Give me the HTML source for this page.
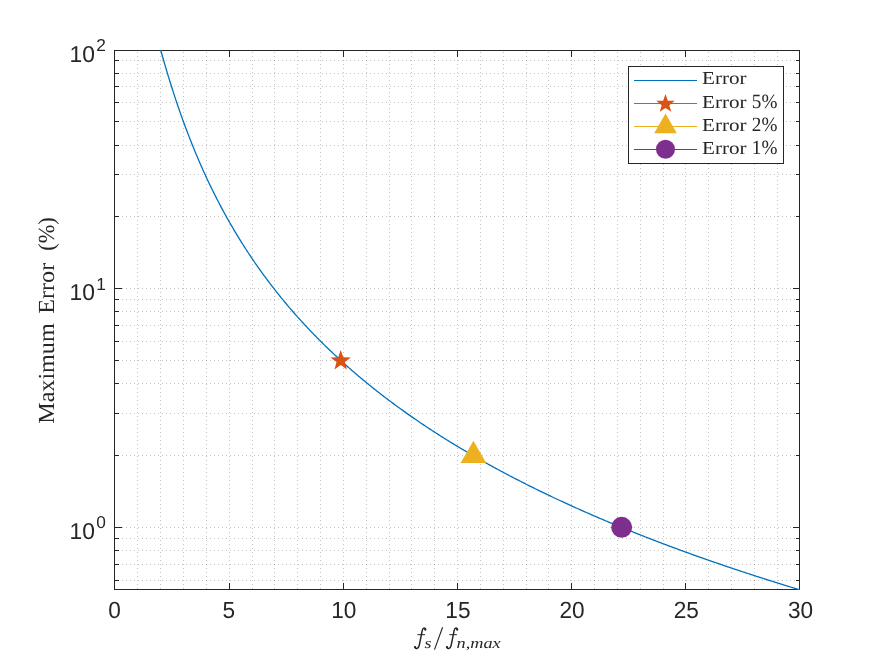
<!DOCTYPE html>
<html><head><meta charset="utf-8"><title>Maximum Error</title>
<style>html,body{margin:0;padding:0;background:#fff;}svg{display:block;will-change:transform;}text{text-rendering:geometricPrecision;font-family:"Liberation Sans",sans-serif;fill:#262626;}.ser{font-family:"Liberation Serif",serif;}.it{font-family:"Liberation Serif",serif;font-style:italic;}</style></head><body>
<svg width="884" height="663" viewBox="0 0 884 663">
<rect x="0" y="0" width="884" height="663" fill="#ffffff"/>
<defs><clipPath id="cp"><rect x="114" y="50" width="686" height="540"/></clipPath></defs>
<g stroke="#262626" stroke-opacity="0.27" stroke-width="1" stroke-dasharray="1 3" shape-rendering="crispEdges" fill="none">
<line x1="137.5" y1="52" x2="137.5" y2="589"/>
<line x1="160.5" y1="52" x2="160.5" y2="589"/>
<line x1="183.5" y1="52" x2="183.5" y2="589"/>
<line x1="206.5" y1="52" x2="206.5" y2="589"/>
<line x1="229.5" y1="52" x2="229.5" y2="589"/>
<line x1="252.5" y1="52" x2="252.5" y2="589"/>
<line x1="274.5" y1="52" x2="274.5" y2="589"/>
<line x1="297.5" y1="52" x2="297.5" y2="589"/>
<line x1="320.5" y1="52" x2="320.5" y2="589"/>
<line x1="343.5" y1="52" x2="343.5" y2="589"/>
<line x1="366.5" y1="52" x2="366.5" y2="589"/>
<line x1="389.5" y1="52" x2="389.5" y2="589"/>
<line x1="411.5" y1="52" x2="411.5" y2="589"/>
<line x1="434.5" y1="52" x2="434.5" y2="589"/>
<line x1="457.5" y1="52" x2="457.5" y2="589"/>
<line x1="480.5" y1="52" x2="480.5" y2="589"/>
<line x1="503.5" y1="52" x2="503.5" y2="589"/>
<line x1="526.5" y1="52" x2="526.5" y2="589"/>
<line x1="548.5" y1="52" x2="548.5" y2="589"/>
<line x1="571.5" y1="52" x2="571.5" y2="589"/>
<line x1="594.5" y1="52" x2="594.5" y2="589"/>
<line x1="617.5" y1="52" x2="617.5" y2="589"/>
<line x1="640.5" y1="52" x2="640.5" y2="589"/>
<line x1="663.5" y1="52" x2="663.5" y2="589"/>
<line x1="685.5" y1="52" x2="685.5" y2="589"/>
<line x1="708.5" y1="52" x2="708.5" y2="589"/>
<line x1="731.5" y1="52" x2="731.5" y2="589"/>
<line x1="754.5" y1="52" x2="754.5" y2="589"/>
<line x1="777.5" y1="52" x2="777.5" y2="589"/>
<line x1="118" y1="288.5" x2="799" y2="288.5"/>
<line x1="118" y1="216.5" x2="799" y2="216.5"/>
<line x1="118" y1="174.5" x2="799" y2="174.5"/>
<line x1="118" y1="145.5" x2="799" y2="145.5"/>
<line x1="118" y1="121.5" x2="799" y2="121.5"/>
<line x1="118" y1="102.5" x2="799" y2="102.5"/>
<line x1="118" y1="86.5" x2="799" y2="86.5"/>
<line x1="118" y1="73.5" x2="799" y2="73.5"/>
<line x1="118" y1="60.5" x2="799" y2="60.5"/>
<line x1="118" y1="527.5" x2="799" y2="527.5"/>
<line x1="118" y1="455.5" x2="799" y2="455.5"/>
<line x1="118" y1="413.5" x2="799" y2="413.5"/>
<line x1="118" y1="383.5" x2="799" y2="383.5"/>
<line x1="118" y1="360.5" x2="799" y2="360.5"/>
<line x1="118" y1="341.5" x2="799" y2="341.5"/>
<line x1="118" y1="325.5" x2="799" y2="325.5"/>
<line x1="118" y1="311.5" x2="799" y2="311.5"/>
<line x1="118" y1="299.5" x2="799" y2="299.5"/>
<line x1="118" y1="580.5" x2="799" y2="580.5"/>
<line x1="118" y1="564.5" x2="799" y2="564.5"/>
<line x1="118" y1="550.5" x2="799" y2="550.5"/>
<line x1="118" y1="538.5" x2="799" y2="538.5"/>
</g>
<g stroke="#262626" stroke-width="1" shape-rendering="crispEdges" fill="none">
<rect x="114.5" y="50.5" width="685.0" height="539.0"/>
<line x1="229.5" y1="589.5" x2="229.5" y2="582.5"/>
<line x1="229.5" y1="50.5" x2="229.5" y2="57.0"/>
<line x1="343.5" y1="589.5" x2="343.5" y2="582.5"/>
<line x1="343.5" y1="50.5" x2="343.5" y2="57.0"/>
<line x1="457.5" y1="589.5" x2="457.5" y2="582.5"/>
<line x1="457.5" y1="50.5" x2="457.5" y2="57.0"/>
<line x1="571.5" y1="589.5" x2="571.5" y2="582.5"/>
<line x1="571.5" y1="50.5" x2="571.5" y2="57.0"/>
<line x1="685.5" y1="589.5" x2="685.5" y2="582.5"/>
<line x1="685.5" y1="50.5" x2="685.5" y2="57.0"/>
<line x1="114.5" y1="288.5" x2="121.5" y2="288.5"/>
<line x1="799.5" y1="288.5" x2="792.5" y2="288.5"/>
<line x1="114.5" y1="216.5" x2="118.5" y2="216.5"/>
<line x1="799.5" y1="216.5" x2="795.5" y2="216.5"/>
<line x1="114.5" y1="174.5" x2="118.5" y2="174.5"/>
<line x1="799.5" y1="174.5" x2="795.5" y2="174.5"/>
<line x1="114.5" y1="145.5" x2="118.5" y2="145.5"/>
<line x1="799.5" y1="145.5" x2="795.5" y2="145.5"/>
<line x1="114.5" y1="121.5" x2="118.5" y2="121.5"/>
<line x1="799.5" y1="121.5" x2="795.5" y2="121.5"/>
<line x1="114.5" y1="102.5" x2="118.5" y2="102.5"/>
<line x1="799.5" y1="102.5" x2="795.5" y2="102.5"/>
<line x1="114.5" y1="86.5" x2="118.5" y2="86.5"/>
<line x1="799.5" y1="86.5" x2="795.5" y2="86.5"/>
<line x1="114.5" y1="73.5" x2="118.5" y2="73.5"/>
<line x1="799.5" y1="73.5" x2="795.5" y2="73.5"/>
<line x1="114.5" y1="60.5" x2="118.5" y2="60.5"/>
<line x1="799.5" y1="60.5" x2="795.5" y2="60.5"/>
<line x1="114.5" y1="527.5" x2="121.5" y2="527.5"/>
<line x1="799.5" y1="527.5" x2="792.5" y2="527.5"/>
<line x1="114.5" y1="455.5" x2="118.5" y2="455.5"/>
<line x1="799.5" y1="455.5" x2="795.5" y2="455.5"/>
<line x1="114.5" y1="413.5" x2="118.5" y2="413.5"/>
<line x1="799.5" y1="413.5" x2="795.5" y2="413.5"/>
<line x1="114.5" y1="383.5" x2="118.5" y2="383.5"/>
<line x1="799.5" y1="383.5" x2="795.5" y2="383.5"/>
<line x1="114.5" y1="360.5" x2="118.5" y2="360.5"/>
<line x1="799.5" y1="360.5" x2="795.5" y2="360.5"/>
<line x1="114.5" y1="341.5" x2="118.5" y2="341.5"/>
<line x1="799.5" y1="341.5" x2="795.5" y2="341.5"/>
<line x1="114.5" y1="325.5" x2="118.5" y2="325.5"/>
<line x1="799.5" y1="325.5" x2="795.5" y2="325.5"/>
<line x1="114.5" y1="311.5" x2="118.5" y2="311.5"/>
<line x1="799.5" y1="311.5" x2="795.5" y2="311.5"/>
<line x1="114.5" y1="299.5" x2="118.5" y2="299.5"/>
<line x1="799.5" y1="299.5" x2="795.5" y2="299.5"/>
<line x1="114.5" y1="580.5" x2="118.5" y2="580.5"/>
<line x1="799.5" y1="580.5" x2="795.5" y2="580.5"/>
<line x1="114.5" y1="564.5" x2="118.5" y2="564.5"/>
<line x1="799.5" y1="564.5" x2="795.5" y2="564.5"/>
<line x1="114.5" y1="550.5" x2="118.5" y2="550.5"/>
<line x1="799.5" y1="550.5" x2="795.5" y2="550.5"/>
<line x1="114.5" y1="538.5" x2="118.5" y2="538.5"/>
<line x1="799.5" y1="538.5" x2="795.5" y2="538.5"/>
</g>
<polyline points="160.67,50.00 161.74,53.78 162.80,57.52 163.87,61.22 164.94,64.88 166.00,68.50 167.07,72.07 168.13,75.60 169.20,79.08 170.26,82.53 171.33,85.93 172.40,89.28 173.46,92.60 174.53,95.87 175.59,99.10 176.66,102.29 177.72,105.44 178.79,108.56 179.86,111.63 180.92,114.66 181.99,117.66 183.05,120.62 184.12,123.54 185.18,126.43 186.25,129.28 187.32,132.10 188.38,134.88 189.45,137.63 190.51,140.35 191.58,143.04 192.64,145.70 193.71,148.32 194.78,150.92 195.84,153.49 196.91,156.02 197.97,158.53 199.04,161.01 200.10,163.47 201.17,165.90 202.24,168.30 203.30,170.68 204.37,173.03 205.43,175.35 206.50,177.66 207.56,179.93 208.63,182.19 209.70,184.42 210.76,186.63 211.83,188.82 212.89,190.99 213.96,193.13 215.02,195.26 216.09,197.36 217.16,199.44 218.22,201.51 219.29,203.55 220.35,205.58 221.42,207.58 222.48,209.57 223.55,211.54 224.62,213.50 225.68,215.43 226.75,217.35 227.81,219.25 228.88,221.13 229.94,223.00 231.01,224.85 232.08,226.69 233.14,228.51 234.21,230.32 235.27,232.11 236.34,233.88 237.40,235.64 238.47,237.39 239.54,239.12 240.60,240.84 241.67,242.54 242.73,244.24 243.80,245.91 244.86,247.58 245.93,249.23 247.00,250.87 248.06,252.50 249.13,254.11 250.19,255.71 251.26,257.30 252.32,258.88 253.39,260.45 254.46,262.00 255.52,263.55 256.59,265.08 257.65,266.60 258.72,268.11 259.78,269.61 260.85,271.10 261.92,272.58 262.98,274.05 264.05,275.51 265.11,276.96 266.18,278.40 267.24,279.83 268.31,281.25 269.38,282.66 270.44,284.06 271.51,285.45 272.57,286.84 273.64,288.21 274.70,289.58 275.77,290.93 276.84,292.28 277.90,293.62 278.97,294.95 280.03,296.27 281.10,297.58 282.16,298.89 283.23,300.19 284.30,301.48 285.36,302.76 286.43,304.03 287.49,305.30 288.56,306.56 289.62,307.81 290.69,309.06 291.76,310.29 292.82,311.52 293.89,312.74 294.95,313.96 296.02,315.17 297.08,316.37 298.15,317.56 299.22,318.75 300.28,319.93 301.35,321.11 302.41,322.28 303.48,323.44 304.54,324.59 305.61,325.74 306.68,326.88 307.74,328.02 308.81,329.15 309.87,330.28 310.94,331.39 312.00,332.51 313.07,333.61 314.14,334.71 315.20,335.81 316.27,336.90 317.33,337.98 318.40,339.06 319.46,340.13 320.53,341.20 321.60,342.26 322.66,343.32 323.73,344.37 324.79,345.41 325.86,346.45 326.92,347.49 327.99,348.52 329.06,349.55 330.12,350.57 331.19,351.58 332.25,352.59 333.32,353.60 334.38,354.60 335.45,355.59 336.52,356.59 337.58,357.57 338.65,358.55 339.71,359.53 340.78,360.50 341.84,361.47 342.91,362.44 343.98,363.40 345.04,364.35 346.11,365.30 347.17,366.25 348.24,367.19 349.30,368.13 350.37,369.06 351.44,369.99 352.50,370.92 353.57,371.84 354.63,372.76 355.70,373.67 356.76,374.58 357.83,375.48 358.90,376.39 359.96,377.28 361.03,378.18 362.09,379.07 363.16,379.95 364.22,380.84 365.29,381.72 366.36,382.59 367.42,383.46 368.49,384.33 369.55,385.19 370.62,386.06 371.68,386.91 372.75,387.77 373.82,388.62 374.88,389.46 375.95,390.31 377.01,391.15 378.08,391.98 379.14,392.82 380.21,393.65 381.28,394.47 382.34,395.30 383.41,396.12 384.47,396.93 385.54,397.75 386.60,398.56 387.67,399.36 388.74,400.17 389.80,400.97 390.87,401.77 391.93,402.56 393.00,403.36 394.06,404.14 395.13,404.93 396.20,405.71 397.26,406.49 398.33,407.27 399.39,408.05 400.46,408.82 401.52,409.59 402.59,410.35 403.66,411.12 404.72,411.88 405.79,412.63 406.85,413.39 407.92,414.14 408.98,414.89 410.05,415.64 411.12,416.38 412.18,417.12 413.25,417.86 414.31,418.60 415.38,419.33 416.44,420.06 417.51,420.79 418.58,421.52 419.64,422.24 420.71,422.96 421.77,423.68 422.84,424.39 423.90,425.11 424.97,425.82 426.04,426.53 427.10,427.23 428.17,427.94 429.23,428.64 430.30,429.34 431.36,430.03 432.43,430.73 433.50,431.42 434.56,432.11 435.63,432.80 436.69,433.48 437.76,434.17 438.82,434.85 439.89,435.53 440.96,436.20 442.02,436.88 443.09,437.55 444.15,438.22 445.22,438.89 446.28,439.55 447.35,440.22 448.42,440.88 449.48,441.54 450.55,442.19 451.61,442.85 452.68,443.50 453.74,444.15 454.81,444.80 455.88,445.45 456.94,446.09 458.01,446.74 459.07,447.38 460.14,448.02 461.20,448.65 462.27,449.29 463.34,449.92 464.40,450.55 465.47,451.18 466.53,451.81 467.60,452.44 468.66,453.06 469.73,453.68 470.80,454.30 471.86,454.92 472.93,455.54 473.99,456.15 475.06,456.76 476.12,457.37 477.19,457.98 478.26,458.59 479.32,459.20 480.39,459.80 481.45,460.40 482.52,461.00 483.58,461.60 484.65,462.20 485.72,462.79 486.78,463.39 487.85,463.98 488.91,464.57 489.98,465.16 491.04,465.74 492.11,466.33 493.18,466.91 494.24,467.49 495.31,468.07 496.37,468.65 497.44,469.23 498.50,469.80 499.57,470.38 500.64,470.95 501.70,471.52 502.77,472.09 503.83,472.66 504.90,473.22 505.96,473.79 507.03,474.35 508.10,474.91 509.16,475.47 510.23,476.03 511.29,476.59 512.36,477.14 513.42,477.70 514.49,478.25 515.56,478.80 516.62,479.35 517.69,479.90 518.75,480.45 519.82,480.99 520.88,481.53 521.95,482.08 523.02,482.62 524.08,483.16 525.15,483.70 526.21,484.23 527.28,484.77 528.34,485.30 529.41,485.83 530.48,486.37 531.54,486.90 532.61,487.42 533.67,487.95 534.74,488.48 535.80,489.00 536.87,489.53 537.94,490.05 539.00,490.57 540.07,491.09 541.13,491.61 542.20,492.12 543.26,492.64 544.33,493.15 545.40,493.67 546.46,494.18 547.53,494.69 548.59,495.20 549.66,495.70 550.72,496.21 551.79,496.72 552.86,497.22 553.92,497.72 554.99,498.23 556.05,498.73 557.12,499.23 558.18,499.72 559.25,500.22 560.32,500.72 561.38,501.21 562.45,501.70 563.51,502.20 564.58,502.69 565.64,503.18 566.71,503.67 567.77,504.15 568.84,504.64 569.91,505.13 570.97,505.61 572.04,506.09 573.10,506.58 574.17,507.06 575.23,507.54 576.30,508.02 577.37,508.49 578.43,508.97 579.50,509.44 580.56,509.92 581.63,510.39 582.69,510.86 583.76,511.34 584.83,511.81 585.89,512.27 586.96,512.74 588.02,513.21 589.09,513.68 590.15,514.14 591.22,514.60 592.29,515.07 593.35,515.53 594.42,515.99 595.48,516.45 596.55,516.91 597.61,517.36 598.68,517.82 599.75,518.28 600.81,518.73 601.88,519.19 602.94,519.64 604.01,520.09 605.07,520.54 606.14,520.99 607.21,521.44 608.27,521.89 609.34,522.33 610.40,522.78 611.47,523.22 612.53,523.67 613.60,524.11 614.67,524.55 615.73,524.99 616.80,525.43 617.86,525.87 618.93,526.31 619.99,526.75 621.06,527.19 622.13,527.62 623.19,528.06 624.26,528.49 625.32,528.92 626.39,529.35 627.45,529.78 628.52,530.21 629.59,530.64 630.65,531.07 631.72,531.50 632.78,531.93 633.85,532.35 634.91,532.78 635.98,533.20 637.05,533.62 638.11,534.05 639.18,534.47 640.24,534.89 641.31,535.31 642.37,535.73 643.44,536.14 644.51,536.56 645.57,536.98 646.64,537.39 647.70,537.81 648.77,538.22 649.83,538.64 650.90,539.05 651.97,539.46 653.03,539.87 654.10,540.28 655.16,540.69 656.23,541.10 657.29,541.50 658.36,541.91 659.43,542.32 660.49,542.72 661.56,543.13 662.62,543.53 663.69,543.93 664.75,544.33 665.82,544.73 666.89,545.13 667.95,545.53 669.02,545.93 670.08,546.33 671.15,546.73 672.21,547.12 673.28,547.52 674.35,547.92 675.41,548.31 676.48,548.70 677.54,549.10 678.61,549.49 679.67,549.88 680.74,550.27 681.81,550.66 682.87,551.05 683.94,551.44 685.00,551.82 686.07,552.21 687.13,552.60 688.20,552.98 689.27,553.37 690.33,553.75 691.40,554.13 692.46,554.52 693.53,554.90 694.59,555.28 695.66,555.66 696.73,556.04 697.79,556.42 698.86,556.80 699.92,557.18 700.99,557.55 702.05,557.93 703.12,558.30 704.19,558.68 705.25,559.05 706.32,559.43 707.38,559.80 708.45,560.17 709.51,560.54 710.58,560.92 711.65,561.29 712.71,561.66 713.78,562.02 714.84,562.39 715.91,562.76 716.97,563.13 718.04,563.49 719.11,563.86 720.17,564.22 721.24,564.59 722.30,564.95 723.37,565.32 724.43,565.68 725.50,566.04 726.57,566.40 727.63,566.76 728.70,567.12 729.76,567.48 730.83,567.84 731.89,568.20 732.96,568.56 734.03,568.91 735.09,569.27 736.16,569.63 737.22,569.98 738.29,570.34 739.35,570.69 740.42,571.04 741.49,571.40 742.55,571.75 743.62,572.10 744.68,572.45 745.75,572.80 746.81,573.15 747.88,573.50 748.95,573.85 750.01,574.20 751.08,574.54 752.14,574.89 753.21,575.24 754.27,575.58 755.34,575.93 756.41,576.27 757.47,576.61 758.54,576.96 759.60,577.30 760.67,577.64 761.73,577.98 762.80,578.33 763.87,578.67 764.93,579.01 766.00,579.35 767.06,579.68 768.13,580.02 769.19,580.36 770.26,580.70 771.33,581.03 772.39,581.37 773.46,581.71 774.52,582.04 775.59,582.38 776.65,582.71 777.72,583.04 778.79,583.38 779.85,583.71 780.92,584.04 781.98,584.37 783.05,584.70 784.11,585.03 785.18,585.36 786.25,585.69 787.31,586.02 788.38,586.35 789.44,586.68 790.51,587.00 791.57,587.33 792.64,587.66 793.71,587.98 794.77,588.31 795.84,588.63 796.90,588.96 797.97,589.28 799.03,589.60 800.10,589.92" fill="none" stroke="#0072BD" stroke-width="1.3" stroke-linejoin="round" clip-path="url(#cp)"/>
<polygon points="340.72,350.03 343.30,357.18 350.90,357.43 344.89,362.09 347.01,369.39 340.72,365.12 334.43,369.39 336.55,362.09 330.54,357.43 338.14,357.18" fill="#D95319"/>
<polygon points="473.42,440.85 486.24,463.05 460.60,463.05" fill="#EDB120"/>
<circle cx="621.68" cy="527.32" r="10.5" fill="#7E2F8E"/>
<rect x="628.5" y="66.5" width="155" height="97" fill="#ffffff" stroke="#262626" stroke-width="1" shape-rendering="crispEdges"/>
<line x1="634" y1="80.5" x2="697" y2="80.5" stroke="#0072BD" stroke-width="1" shape-rendering="crispEdges"/>
<line x1="634" y1="103.5" x2="697" y2="103.5" stroke="#D95319" stroke-width="1" shape-rendering="crispEdges"/>
<line x1="634" y1="126.5" x2="697" y2="126.5" stroke="#EDB120" stroke-width="1" shape-rendering="crispEdges"/>
<line x1="634" y1="149.5" x2="697" y2="149.5" stroke="#7E2F8E" stroke-width="1" shape-rendering="crispEdges"/>
<polygon points="665.50,94.10 667.86,100.65 674.82,100.87 669.32,105.14 671.26,111.83 665.50,107.92 659.74,111.83 661.68,105.14 656.18,100.87 663.14,100.65" fill="#D95319"/>
<polygon points="665.50,113.60 676.84,133.25 654.16,133.25" fill="#EDB120"/>
<circle cx="665.50" cy="149.30" r="9.5" fill="#7E2F8E"/>
<text class="ser" x="702.0" y="84.3" font-size="18.2" textLength="44.5" lengthAdjust="spacingAndGlyphs" fill="#000">Error</text>
<text class="ser" x="702.0" y="107.5" font-size="18.2" textLength="44.5" lengthAdjust="spacingAndGlyphs" fill="#000">Error</text>
<text class="ser" x="751.8" y="107.9" font-size="20.2" textLength="25.6" lengthAdjust="spacingAndGlyphs" fill="#000">5%</text>
<text class="ser" x="702.0" y="130.7" font-size="18.2" textLength="44.5" lengthAdjust="spacingAndGlyphs" fill="#000">Error</text>
<text class="ser" x="751.8" y="131.1" font-size="20.2" textLength="25.6" lengthAdjust="spacingAndGlyphs" fill="#000">2%</text>
<text class="ser" x="702.0" y="153.9" font-size="18.2" textLength="44.5" lengthAdjust="spacingAndGlyphs" fill="#000">Error</text>
<text class="ser" x="751.8" y="154.3" font-size="20.2" textLength="25.6" lengthAdjust="spacingAndGlyphs" fill="#000">1%</text>
<text x="108.2" y="618.4" font-size="23.4" textLength="12.6" lengthAdjust="spacingAndGlyphs">0</text>
<text x="222.4" y="618.4" font-size="23.4" textLength="12.6" lengthAdjust="spacingAndGlyphs">5</text>
<text x="331.2" y="618.4" font-size="23.4" textLength="25.2" lengthAdjust="spacingAndGlyphs">10</text>
<text x="445.3" y="618.4" font-size="23.4" textLength="25.2" lengthAdjust="spacingAndGlyphs">15</text>
<text x="559.5" y="618.4" font-size="23.4" textLength="25.2" lengthAdjust="spacingAndGlyphs">20</text>
<text x="673.7" y="618.4" font-size="23.4" textLength="25.2" lengthAdjust="spacingAndGlyphs">25</text>
<text x="787.9" y="618.4" font-size="23.4" textLength="25.2" lengthAdjust="spacingAndGlyphs">30</text>
<text x="69.6" y="61.5" font-size="23" textLength="25.4" lengthAdjust="spacingAndGlyphs">10</text>
<text x="96.3" y="50.9" font-size="17.3">2</text>
<text x="69.6" y="300.3" font-size="23" textLength="25.4" lengthAdjust="spacingAndGlyphs">10</text>
<text x="96.3" y="289.7" font-size="17.3">1</text>
<text x="69.6" y="539.0" font-size="23" textLength="25.4" lengthAdjust="spacingAndGlyphs">10</text>
<text x="96.3" y="528.4" font-size="17.3">0</text>
<g transform="translate(53.6,423.8) rotate(-90)">
<text class="ser" x="0" y="0" font-size="23" textLength="100.5" lengthAdjust="spacingAndGlyphs">Maximum</text>
<text class="ser" x="110" y="0" font-size="23" textLength="51" lengthAdjust="spacingAndGlyphs">Error</text>
<text class="ser" x="173" y="0" font-size="23" textLength="33.5" lengthAdjust="spacingAndGlyphs">(%)</text>
</g>
<g transform="translate(0,0)" stroke="#222" fill="none" stroke-linecap="round"><path d="M425.4,629.6 C425.3,627.4 422.9,627.0 422.2,630.6 L419.3,645.2 C418.6,648.8 416.0,649.4 415.0,647.4" stroke-width="1.45"/><line x1="417.8" y1="634.7" x2="424.6" y2="634.7" stroke-width="1"/><circle cx="425.3" cy="629.5" r="1.15" fill="#222" stroke="none"/><circle cx="415.1" cy="647.2" r="1.15" fill="#222" stroke="none"/></g>
<g transform="translate(31.9,0)" stroke="#222" fill="none" stroke-linecap="round"><path d="M425.4,629.6 C425.3,627.4 422.9,627.0 422.2,630.6 L419.3,645.2 C418.6,648.8 416.0,649.4 415.0,647.4" stroke-width="1.45"/><line x1="417.8" y1="634.7" x2="424.6" y2="634.7" stroke-width="1"/><circle cx="425.3" cy="629.5" r="1.15" fill="#222" stroke="none"/><circle cx="415.1" cy="647.2" r="1.15" fill="#222" stroke="none"/></g>
<text class="it" x="424.6" y="648.2" font-size="15" textLength="7" lengthAdjust="spacingAndGlyphs" fill="#222">s</text>
<line x1="434.5" y1="649.6" x2="442.6" y2="627.2" stroke="#222" stroke-width="1.1"/>
<text class="it" x="456.6" y="648.2" font-size="15" textLength="44" lengthAdjust="spacingAndGlyphs" fill="#222">n,max</text>
</svg></body></html>
